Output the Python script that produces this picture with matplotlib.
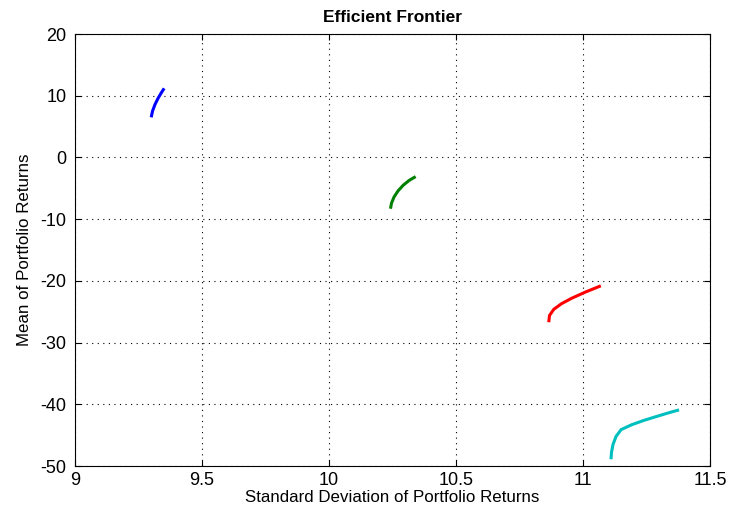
import matplotlib
matplotlib.use("Agg")
import matplotlib.pyplot as plt

plt.rcParams['font.family'] = ['Liberation Sans', 'DejaVu Sans']
plt.rcParams['axes.unicode_minus'] = False

# frontier curves for four portfolio sets (std dev, mean)
blue_std = [9.300, 9.305, 9.315, 9.327, 9.340, 9.351]
blue_mean = [6.5, 7.5, 8.6, 9.6, 10.5, 11.2]

green_std = [10.242, 10.246, 10.256, 10.272, 10.292, 10.316, 10.341]
green_mean = [-8.3, -7.4, -6.4, -5.4, -4.5, -3.7, -3.1]

red_std = [10.865, 10.868, 10.885, 10.915, 10.956, 11.010, 11.070]
red_mean = [-26.7, -25.6, -24.6, -23.7, -22.8, -21.8, -20.8]

cyan_std = [11.110, 11.112, 11.118, 11.130, 11.150, 11.192, 11.240, 11.287, 11.335, 11.378]
cyan_mean = [-48.9, -47.8, -46.5, -45.2, -44.1, -43.3, -42.6, -42.0, -41.4, -40.9]

x_ticks = [9, 9.5, 10, 10.5, 11, 11.5]
x_labels = ["9", "9.5", "10", "10.5", "11", "11.5"]
y_ticks = [-50, -40, -30, -20, -10, 0, 10, 20]

fig = plt.figure(figsize=(7.29, 5.15), dpi=100)
ax = fig.add_axes([0.1029, 0.0951, 0.8711, 0.8388])

ax.plot(blue_std, blue_mean, color=(0, 0, 1), lw=2.2, solid_capstyle='butt')
ax.plot(green_std, green_mean, color=(0, 0.5, 0), lw=2.2, solid_capstyle='butt')
ax.plot(red_std, red_mean, color=(1, 0, 0), lw=2.2, solid_capstyle='butt')
ax.plot(cyan_std, cyan_mean, color=(0, 0.75, 0.75), lw=2.2, solid_capstyle='butt')

ax.set_xlim(9, 11.5)
ax.set_ylim(-50, 20)
ax.set_xticks(x_ticks)
ax.set_xticklabels(x_labels)
ax.set_yticks(y_ticks)
ax.tick_params(direction='in', length=4, width=0.8, labelsize=13, top=True, right=True)
ax.tick_params(axis='x', pad=4)
ax.tick_params(axis='y', pad=6)

ax.grid(True, color='black', linestyle=(0, (1, 4)), linewidth=0.8)
for s in ax.spines.values():
    s.set_linewidth(0.8)

ax.set_title("Efficient Frontier", fontsize=12.5, fontweight='bold', pad=9)
ax.set_xlabel("Standard Deviation of Portfolio Returns", fontsize=12.2, labelpad=1)
ax.set_ylabel("Mean of Portfolio Returns", fontsize=12.2, labelpad=6)

fig.savefig("out.png", dpi=100)
